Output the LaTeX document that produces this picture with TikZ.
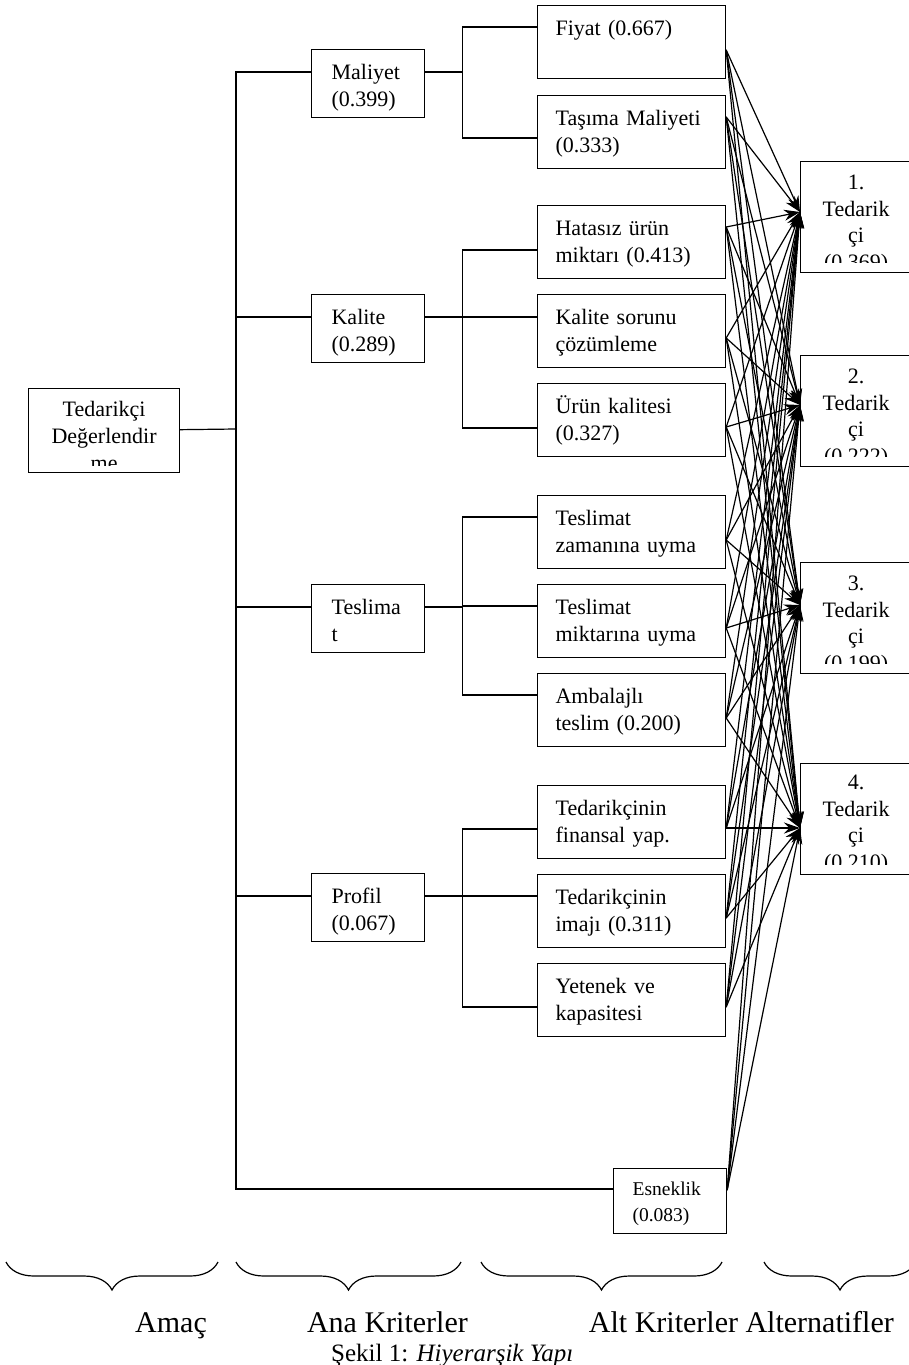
\documentclass[tikz,border=0pt]{standalone}
\usepackage{fontspec}
\setmainfont{Liberation Serif}
\usetikzlibrary{arrows.meta, decorations.pathreplacing}
\tikzset{
  >={Stealth[length=16pt, width=11pt]}, % filled heads on the arrows to the alternatives
  cizgi/.style={line width=1.2pt}, % lines of the tree
  ok/.style={->, line width=1.2pt}, % arrows from each sub-criterion to each alternative
  kutu/.style={draw, line width=1.2pt, anchor=north west, inner ysep=0pt, align=left,
    font=\fontsize{22pt}{26.5pt}\selectfont,
    execute at begin node=\rule{0pt}{22pt}, execute at end node=\strut}, % a box with its text
  anakutu/.style={kutu, text width=73pt, inner xsep=20pt, minimum height=68pt,
    execute at begin node=\rule{0pt}{27pt}}, % main criteria
  altkutu/.style={kutu, text width=152pt, inner xsep=18pt, minimum height=73pt}, % sub-criteria
  esnek/.style={kutu, text width=75pt, inner xsep=19pt, minimum height=65pt,
    font=\fontsize{19.5pt}{26pt}\selectfont},
  bos/.style={draw, line width=1.2pt, anchor=north west, inner sep=0pt}, % box whose text is cut off
  kirpik/.style={anchor=north, inner sep=0pt, align=center,
    font=\fontsize{22pt}{26.5pt}\selectfont, execute at begin node=\strut},
  parantez/.style={decorate, decoration={brace, mirror, amplitude=28pt}, line width=1.2pt},
  etiket/.style={inner sep=0pt, font=\fontsize{30pt}{36pt}\selectfont},
}
\begin{document}
\begin{tikzpicture}[x=1pt, y=-1pt]
  \useasboundingbox (0,0) rectangle (909,1365);

  % goal
  \node[bos, minimum width=151pt, minimum height=84pt] (amac) at (28,388) {};
  \begin{scope}
    \clip (amac.north west) rectangle ([yshift=8pt]amac.south east);
    \node[kirpik, font=\fontsize{22pt}{27pt}\selectfont] (amac-yazi) at ([yshift=-13pt]amac.north) {Tedarikçi\\Değerlendir\\me};
  \end{scope}

  % main criteria
  \node[anakutu] (maliyet) at (311,49) {Maliyet\\(0.399)};
  \node[anakutu] (kalite) at (311,294) {Kalite\\(0.289)};
  \node[anakutu] (teslimat) at (311,584) {Teslima\\t};
  \node[anakutu] (profil) at (311,873) {Profil\\(0.067)};

  % sub-criteria
  \node[altkutu] (fiyat) at (537,5) {Fiyat (0.667)\\\mbox{}};
  \node[altkutu] (tasima) at (537,95) {Taşıma Maliyeti\\(0.333)};
  \node[altkutu] (hatasiz) at (537,205) {Hatasız ürün\\miktarı (0.413)};
  \node[altkutu] (sorun) at (537,294) {Kalite sorunu\\çözümleme};
  \node[altkutu] (urun) at (537,383) {Ürün kalitesi\\(0.327)};
  \node[altkutu] (zaman) at (537,495) {Teslimat\\zamanına uyma};
  \node[altkutu] (miktar) at (537,584) {Teslimat\\miktarına uyma};
  \node[altkutu] (ambalaj) at (537,673) {Ambalajlı\\teslim (0.200)};
  \node[altkutu] (finans) at (537,785) {Tedarikçinin\\finansal yap.};
  \node[altkutu] (imaj) at (537,874) {Tedarikçinin\\imajı (0.311)};
  \node[altkutu] (yetenek) at (537,963) {Yetenek ve\\kapasitesi};
  \node[esnek] (esneklik) at (613,1168) {Esneklik\\(0.083)};

  % alternatives
  \node[bos, minimum width=111pt, minimum height=111pt] (a1) at (800,161) {};
  \node[bos, minimum width=111pt, minimum height=111pt] (a2) at (800,355) {};
  \node[bos, minimum width=111pt, minimum height=111pt] (a3) at (800,562) {};
  \node[bos, minimum width=111pt, minimum height=111pt] (a4) at (800,763) {};
  \begin{scope}
    \clip (a1.north west) rectangle ([yshift=11pt]a1.south east);
    \node[kirpik] (a1-yazi) at ([yshift=-14pt]a1.north) {1.\\Tedarik\\çi\\(0.369)};
  \end{scope}
  \begin{scope}
    \clip (a2.north west) rectangle ([yshift=11pt]a2.south east);
    \node[kirpik] (a2-yazi) at ([yshift=-14pt]a2.north) {2.\\Tedarik\\çi\\(0.222)};
  \end{scope}
  \begin{scope}
    \clip (a3.north west) rectangle ([yshift=11pt]a3.south east);
    \node[kirpik] (a3-yazi) at ([yshift=-14pt]a3.north) {3.\\Tedarik\\çi\\(0.199)};
  \end{scope}
  \begin{scope}
    \clip (a4.north west) rectangle ([yshift=11pt]a4.south east);
    \node[kirpik] (a4-yazi) at ([yshift=-12pt]a4.north) {4.\\Tedarik\\çi\\(0.210)};
  \end{scope}
  \coordinate (h1) at ([yshift=-51pt]a1.north west);
  \coordinate (h2) at ([yshift=-50pt]a2.north west);
  \coordinate (h3) at ([yshift=-43pt]a3.north west);
  \coordinate (h4) at ([yshift=-65pt]a4.north west);

  % tree
  \coordinate (gov) at (236,429);
  \draw[cizgi] (amac) -- (gov);
  \draw[cizgi] (gov) |- ([yshift=-23pt]maliyet.north west);
  \draw[cizgi] (gov) |- ([yshift=-23pt]kalite.north west);
  \draw[cizgi] (gov) |- ([yshift=-23pt]teslimat.north west);
  \draw[cizgi] (gov) |- ([yshift=-23pt]profil.north west);
  \draw[cizgi] (gov) |- ([yshift=-21pt]esneklik.north west);

  \draw[cizgi] ([yshift=-23pt]maliyet.north east) -- ++(37,0) coordinate (d1);
  \draw[cizgi] (d1) |- ([yshift=-22pt]fiyat.north west);
  \draw[cizgi] (d1) |- ([yshift=-43pt]tasima.north west);

  \draw[cizgi] ([yshift=-23pt]kalite.north east) -- ++(37,0) coordinate (d2);
  \draw[cizgi] (d2) |- ([yshift=-45pt]hatasiz.north west);
  \draw[cizgi] (d2) |- ([yshift=-23pt]sorun.north west);
  \draw[cizgi] (d2) |- ([yshift=-45pt]urun.north west);

  \draw[cizgi] ([yshift=-23pt]teslimat.north east) -- ++(37,0) coordinate (d3);
  \draw[cizgi] (d3) |- ([yshift=-22pt]zaman.north west);
  \draw[cizgi] (d3) |- ([yshift=-22pt]miktar.north west);
  \draw[cizgi] (d3) |- ([yshift=-22pt]ambalaj.north west);

  \draw[cizgi] ([yshift=-23pt]profil.north east) -- ++(37,0) coordinate (d4);
  \draw[cizgi] (d4) |- ([yshift=-44pt]finans.north west);
  \draw[cizgi] (d4) |- ([yshift=-22pt]imaj.north west);
  \draw[cizgi] (d4) |- ([yshift=-44pt]yetenek.north west);

  % every sub-criterion to every alternative
  \path[ok] ([yshift=-45pt]fiyat.north east) edge (h1) edge (h2) edge (h3) edge (h4);
  \path[ok] ([yshift=-22pt]tasima.north east) edge (h1) edge (h2) edge (h3) edge (h4);
  \path[ok] ([yshift=-22pt]hatasiz.north east) edge (h1) edge (h2) edge (h3) edge (h4);
  \path[ok] ([yshift=-44pt]sorun.north east) edge (h1) edge (h2) edge (h3) edge (h4);
  \path[ok] ([yshift=-44pt]urun.north east) edge (h1) edge (h2) edge (h3) edge (h4);
  \path[ok] ([yshift=-45pt]zaman.north east) edge (h1) edge (h2) edge (h3) edge (h4);
  \path[ok] ([yshift=-44pt]miktar.north east) edge (h1) edge (h2) edge (h3) edge (h4);
  \path[ok] ([yshift=-45pt]ambalaj.north east) edge (h1) edge (h2) edge (h3) edge (h4);
  \path[ok] ([yshift=-43pt]finans.north east) edge (h1) edge (h2) edge (h3) edge (h4);
  \path[ok] ([yshift=-44pt]imaj.north east) edge (h1) edge (h2) edge (h3) edge (h4);
  \path[ok] ([yshift=-44pt]yetenek.north east) edge (h1) edge (h2) edge (h3) edge (h4);
  \path[ok] ([yshift=-22pt]esneklik.north east) edge (h1) edge (h2) edge (h3) edge (h4);

  % levels
  \draw[parantez] (6,1262) -- (218,1262);
  \draw[parantez] (236,1262) -- (461,1262);
  \draw[parantez] (481,1262) -- (722,1262);
  \draw[parantez] (764,1262) -- (916,1262);
  \node[etiket, anchor=base] (l-amac) at (171,1332) {Amaç};
  \node[etiket, anchor=base east] (l-ana) at (468,1332) {Ana Kriterler};
  \node[etiket, anchor=base east] (l-alt) at (894,1332) {Alt Kriterler Alternatifler};
  \node[etiket, anchor=base west, font=\fontsize{25pt}{30pt}\selectfont] (sekil) at (331,1361) {Şekil 1: \textit{Hiyerarşik Yapı}};
\end{tikzpicture}
\end{document}
